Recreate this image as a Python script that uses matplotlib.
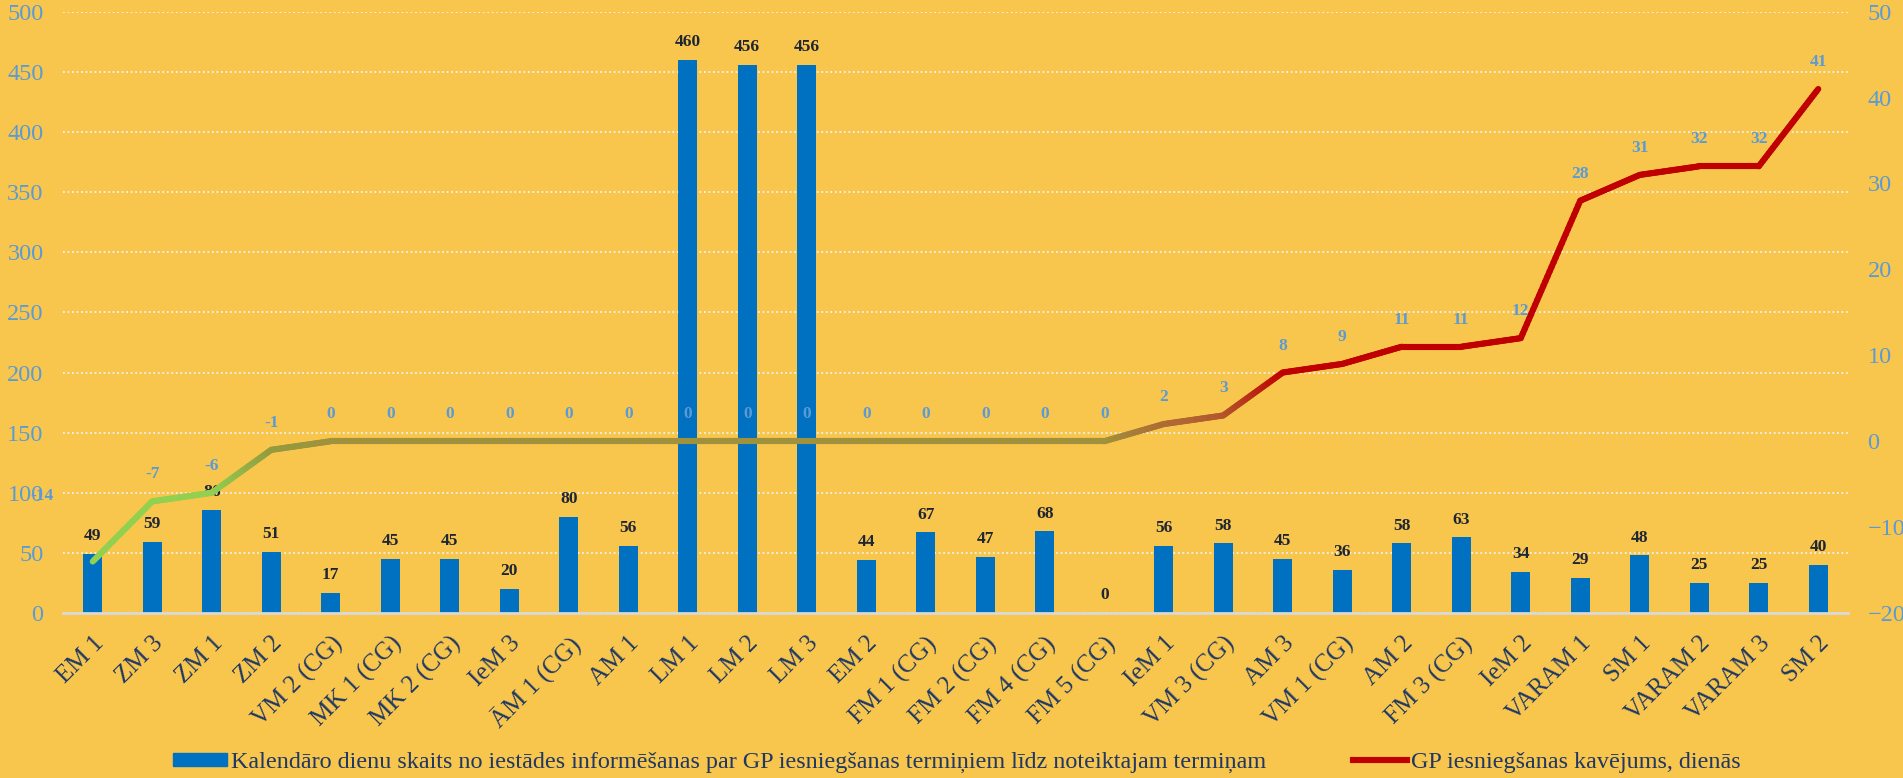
import matplotlib
matplotlib.use('Agg')
import matplotlib.pyplot as plt
import numpy as np
from matplotlib.collections import LineCollection
from matplotlib.colors import LinearSegmentedColormap, Normalize
from matplotlib.patches import Patch
from matplotlib.lines import Line2D

# dati
categories = ['EM 1', 'ZM 3', 'ZM 1', 'ZM 2', 'VM 2 (CG)', 'MK 1 (CG)', 'MK 2 (CG)', 'IeM 3',
              'ĀM 1 (CG)', 'AM 1', 'LM 1', 'LM 2', 'LM 3', 'EM 2', 'FM 1 (CG)', 'FM 2 (CG)',
              'FM 4 (CG)', 'FM 5 (CG)', 'IeM 1', 'VM 3 (CG)', 'AM 3', 'VM 1 (CG)', 'AM 2',
              'FM 3 (CG)', 'IeM 2', 'VARAM 1', 'SM 1', 'VARAM 2', 'VARAM 3', 'SM 2']
days = [49, 59, 86, 51, 17, 45, 45, 20, 80, 56, 460, 456, 456, 44, 67, 47, 68, 0,
        56, 58, 45, 36, 58, 63, 34, 29, 48, 25, 25, 40]
delay = [-14, -7, -6, -1, 0, 0, 0, 0, 0, 0, 0, 0, 0, 0, 0, 0, 0, 0,
         2, 3, 8, 9, 11, 11, 12, 28, 31, 32, 32, 41]

bar_label_name = 'Kalendāro dienu skaits no iestādes informēšanas par GP iesniegšanas termiņiem līdz noteiktajam termiņam'
line_label_name = 'GP iesniegšanas kavējums, dienās'

bg = '#F8C54D'
bar_color = '#0070C0'
axis_blue = '#5B9BD5'
dark_blue = '#1F3864'

plt.rcParams['font.family'] = ['Liberation Serif', 'DejaVu Serif']

fig = plt.figure(figsize=(19.03, 7.78), dpi=100)
fig.patch.set_facecolor(bg)
ax = fig.add_axes([0.0331, 0.212, 0.938, 0.773])
ax.set_facecolor(bg)

x = np.arange(len(categories))
bars = ax.bar(x, days, width=0.32, color=bar_color, zorder=2)
ax.bar_label(bars, padding=7, fontsize=12.5, fontweight='bold', color='#1F2633')

ax.set_xlim(-0.5, len(categories) - 0.5)
ax.set_ylim(0, 500)
ax.set_yticks(range(0, 501, 50))
ax.grid(axis='y', color='#F2F2F2', linestyle=(0, (1, 1.5)), linewidth=1.3, zorder=0)
ax.set_axisbelow(True)
for s in ['top', 'right', 'left']:
    ax.spines[s].set_visible(False)
ax.spines['bottom'].set_color('#D9D9D9')
ax.spines['bottom'].set_linewidth(2)
ax.tick_params(axis='both', length=0)
ax.tick_params(axis='y', labelsize=17.5, labelcolor=axis_blue, pad=14)
ax.set_xticks(x)
ax.set_xticklabels(categories, rotation=45, ha='right', va='top', rotation_mode='anchor',
                   fontsize=18, color=dark_blue)
ax.tick_params(axis='x', pad=14)

# otrā ass - kavējums
ax2 = ax.twinx()
ax2.set_ylim(-20, 50)
ax2.set_yticks(range(-20, 51, 10))
for s in ax2.spines.values():
    s.set_visible(False)
ax2.tick_params(axis='y', length=0, labelsize=17.5, labelcolor=axis_blue, pad=14)

# krāsu pāreja pēc vērtības
stops = [(-14, '#92D050'), (-6, '#92D050'), (-1, '#949A3E'), (0, '#A0913C'),
         (2, '#AE6B35'), (3, '#B2582D'), (8, '#C00000'), (41, '#C00000')]
lo, hi = stops[0][0], stops[-1][0]
cmap = LinearSegmentedColormap.from_list(
    'grad', [((v - lo) / (hi - lo), c) for v, c in stops])
norm = Normalize(lo, hi)

segs, cols = [], []
for i in range(len(x) - 1):
    t = np.linspace(0, 1, 30)
    xs = x[i] + (x[i + 1] - x[i]) * t
    ys = delay[i] + (delay[i + 1] - delay[i]) * t
    pts = np.column_stack([xs, ys])
    for j in range(len(t) - 1):
        segs.append(pts[j:j + 2])
        cols.append(cmap(norm((ys[j] + ys[j + 1]) / 2)))
lc = LineCollection(segs, colors=cols, linewidths=4.4, capstyle='round', joinstyle='round', zorder=3)
ax2.add_collection(lc)

for i, v in enumerate(delay):
    off = (-51, 66) if i == 0 else (0, 27)
    ax2.annotate(str(v), (x[i], v), xytext=off, textcoords='offset pixels',
                 ha='center', va='center', fontsize=12.5, fontweight='bold', color=axis_blue, zorder=4)

handles = [Patch(color=bar_color), Line2D([], [], color='#C00000', lw=4.4)]
fig.legend(handles, [bar_label_name, line_label_name], loc='lower center',
           bbox_to_anchor=(0.503, -0.022), ncol=2, frameon=False, fontsize=17.4,
           handlelength=2.2, handleheight=0.5, handletextpad=0.2, columnspacing=3.6,
           labelcolor=dark_blue)

fig.savefig('out.png', dpi=100, facecolor=bg)
